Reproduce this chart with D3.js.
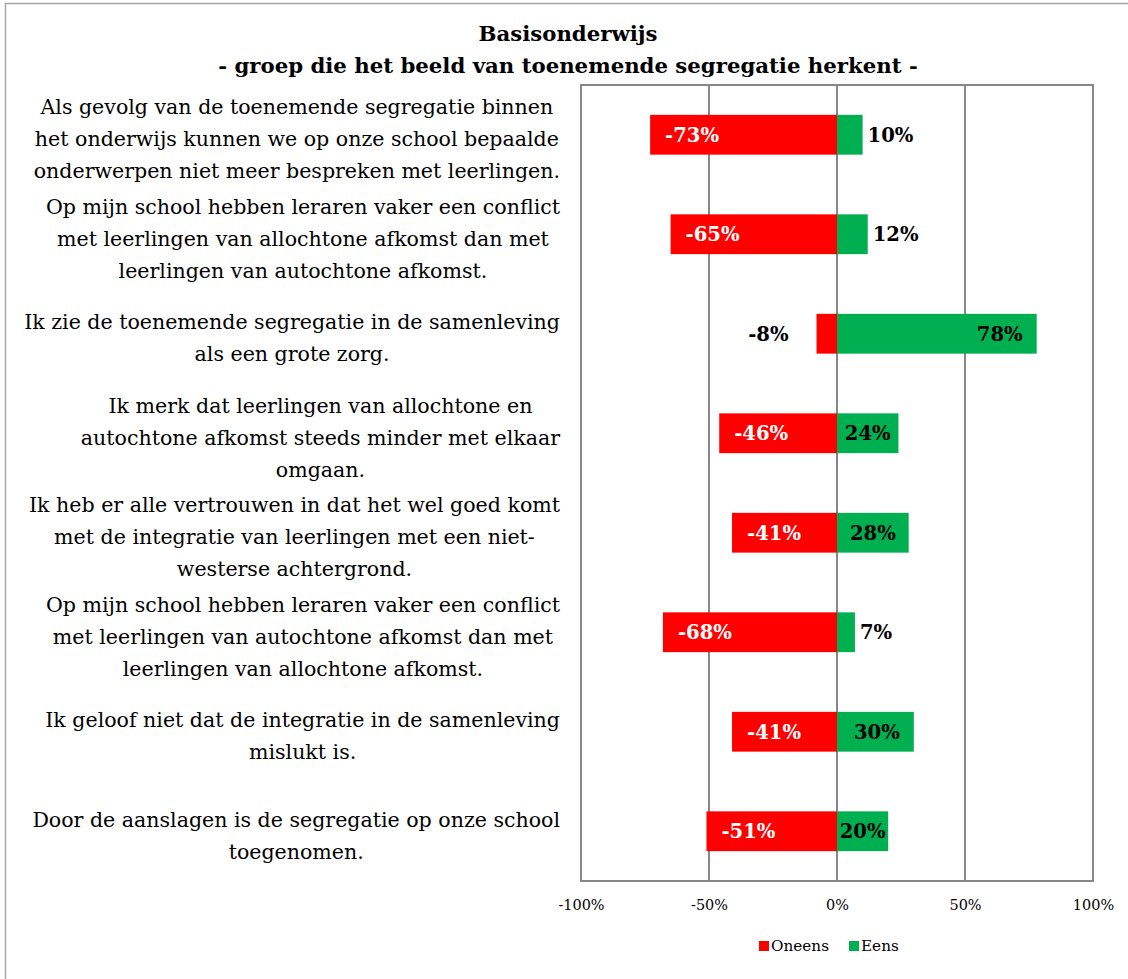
<!DOCTYPE html>
<html><head><meta charset="utf-8">
<script src="https://cdn.jsdelivr.net/npm/d3@7/dist/d3.min.js"></script>
<style>body{margin:0;background:#fff}svg{display:block}</style>
</head><body>
<script>
const titleLines = ["Basisonderwijs", "- groep die het beeld van toenemende segregatie herkent -"];
const categories = [
  "Als gevolg van de toenemende segregatie binnen|het onderwijs kunnen we op onze school bepaalde|onderwerpen niet meer bespreken met leerlingen.",
  "Op mijn school hebben leraren vaker een conflict|met leerlingen van allochtone afkomst dan met|leerlingen van autochtone afkomst.",
  "Ik zie de toenemende segregatie in de samenleving|als een grote zorg.",
  "Ik merk dat leerlingen van allochtone en|autochtone afkomst steeds minder met elkaar|omgaan.",
  "Ik heb er alle vertrouwen in dat het wel goed komt|met de integratie van leerlingen met een niet-|westerse achtergrond.",
  "Op mijn school hebben leraren vaker een conflict|met leerlingen van autochtone afkomst dan met|leerlingen van allochtone afkomst.",
  "Ik geloof niet dat de integratie in de samenleving|mislukt is.",
  "Door de aanslagen is de segregatie op onze school|toegenomen."
];
const oneens = [-73, -65, -8, -46, -41, -68, -41, -51];
const eens = [10, 12, 78, 24, 28, 7, 30, 20];
const seriesNames = ["Oneens", "Eens"];
const tickValues = [-100, -50, 0, 50, 100];
const tickLabels = ["-100%", "-50%", "0%", "50%", "100%"];

const W = 1128, H = 979;
const FONT = "'DejaVu Serif', 'Liberation Serif', serif";
const RED = "#FF0000", GREEN = "#00B050", GRID = "#878787";
const svg = d3.select("body").append("svg").attr("width", W).attr("height", H)
  .style("font-family", FONT);

// measuring helper to fit font sizes
const meas = svg.append("text").attr("x", -1000).attr("y", -1000);
function width(text, weight, size) {
  meas.attr("font-size", size).attr("font-weight", weight).text(text);
  return meas.node().getComputedTextLength();
}
function fit(text, weight, target) {
  return 20 * target / width(text, weight, 20);
}
const titleSize = fit(titleLines[1], "bold", 700);
const catSize = fit("Ik zie de toenemende segregatie in de samenleving", "normal", 536);
const valSize = fit("-73%", "bold", 54);
const tickSize = fit("-50%", "normal", 37);
const legSize = fit("Oneens", "normal", 58);

// outer border
svg.append("rect").attr("x", 5.5).attr("y", 3.5).attr("width", W + 20).attr("height", H + 20)
  .attr("fill", "none").attr("stroke", "#a6a6a6").attr("stroke-width", 1.5);

// title
svg.append("g").selectAll("text").data(titleLines).join("text")
  .attr("x", 568).attr("y", (d, i) => 41 + i * 32)
  .attr("text-anchor", "middle").attr("font-weight", "bold")
  .attr("font-size", titleSize).attr("fill", "#000").text(d => d);

const plot = {left: 581, right: 1093, top: 85, bottom: 881};
const x = d3.scaleLinear().domain([-100, 100]).range([plot.left, plot.right]);
const y = d3.scaleBand().domain(categories).range([plot.top, plot.bottom])
  .paddingInner(0.6).paddingOuter(0.3);

// gridlines
svg.append("g").selectAll("line").data(tickValues).join("line")
  .attr("x1", d => x(d)).attr("x2", d => x(d))
  .attr("y1", plot.top).attr("y2", plot.bottom)
  .attr("stroke", GRID).attr("stroke-width", 2);
svg.append("rect").attr("x", plot.left).attr("y", plot.top)
  .attr("width", plot.right - plot.left).attr("height", plot.bottom - plot.top)
  .attr("fill", "none").attr("stroke", GRID).attr("stroke-width", 2);

// x axis
const axis = d3.axisBottom(x).tickValues(tickValues).tickSize(0)
  .tickFormat((d, i) => tickLabels[i]);
const ag = svg.append("g").attr("transform", `translate(0,${plot.bottom})`).call(axis);
ag.select(".domain").remove();
ag.selectAll("text").attr("font-family", FONT).attr("font-size", tickSize)
  .attr("fill", "#000").attr("y", 19);

// bars
const rows = categories.map((c, i) => ({c, neg: oneens[i], pos: eens[i]}));
const bars = svg.append("g");
bars.selectAll("rect.neg").data(rows).join("rect").attr("class", "neg")
  .attr("x", d => x(d.neg)).attr("width", d => x(0) - x(d.neg))
  .attr("y", d => y(d.c)).attr("height", y.bandwidth()).attr("fill", RED);
bars.selectAll("rect.pos").data(rows).join("rect").attr("class", "pos")
  .attr("x", x(0)).attr("width", d => x(d.pos) - x(0))
  .attr("y", d => y(d.c)).attr("height", y.bandwidth()).attr("fill", GREEN);

// value labels
const lab = svg.append("g").attr("font-weight", "bold").attr("font-size", valSize);
rows.forEach(d => {
  const cy = y(d.c) + y.bandwidth() / 2;
  const nt = d.neg + "%";
  const nw = width(nt, "bold", valSize);
  const nbw = x(0) - x(d.neg);
  if (nbw >= nw + 30) {
    lab.append("text").attr("x", x(d.neg) + 15).attr("y", cy).attr("dy", "0.36em")
      .attr("fill", "#fff").text(nt);
  } else {
    lab.append("text").attr("x", x(d.neg) - 28).attr("y", cy).attr("dy", "0.36em")
      .attr("text-anchor", "end").attr("fill", "#000").text(nt);
  }
  const pt = d.pos + "%";
  const pw = width(pt, "bold", valSize);
  const pbw = x(d.pos) - x(0);
  if (pbw >= pw) {
    const inset = Math.max(0, Math.min(14, (pbw - pw) / 2));
    lab.append("text").attr("x", x(d.pos) - inset).attr("y", cy).attr("dy", "0.36em")
      .attr("text-anchor", "end").attr("fill", "#000").text(pt);
  } else {
    lab.append("text").attr("x", x(d.pos) + 5).attr("y", cy).attr("dy", "0.36em")
      .attr("fill", "#000").text(pt);
  }
});

// category labels (block right-aligned, lines centered within block)
const cg = svg.append("g").attr("font-size", catSize).attr("fill", "#000");
const LH = 32, RIGHT = 560;
categories.forEach(c => {
  const lines = c.split("|");
  const maxW = d3.max(lines, l => width(l, "normal", catSize));
  const cx = RIGHT - maxW / 2;
  const cy = y(c) + y.bandwidth() / 2 + 4;
  lines.forEach((l, i) => {
    cg.append("text").attr("x", cx).attr("y", cy + (i - (lines.length - 1) / 2) * LH)
      .attr("dy", "0.36em").attr("text-anchor", "middle").text(l);
  });
});

// legend
const lg = svg.append("g").attr("font-size", legSize);
const legX = [759, 849], legCol = [RED, GREEN];
seriesNames.forEach((n, i) => {
  lg.append("rect").attr("x", legX[i]).attr("y", 941).attr("width", 10).attr("height", 10).attr("fill", legCol[i]);
  lg.append("text").attr("x", legX[i] + 12).attr("y", 946).attr("dy", "0.36em").attr("fill", "#000").text(n);
});
meas.remove();
</script>
</body></html>
